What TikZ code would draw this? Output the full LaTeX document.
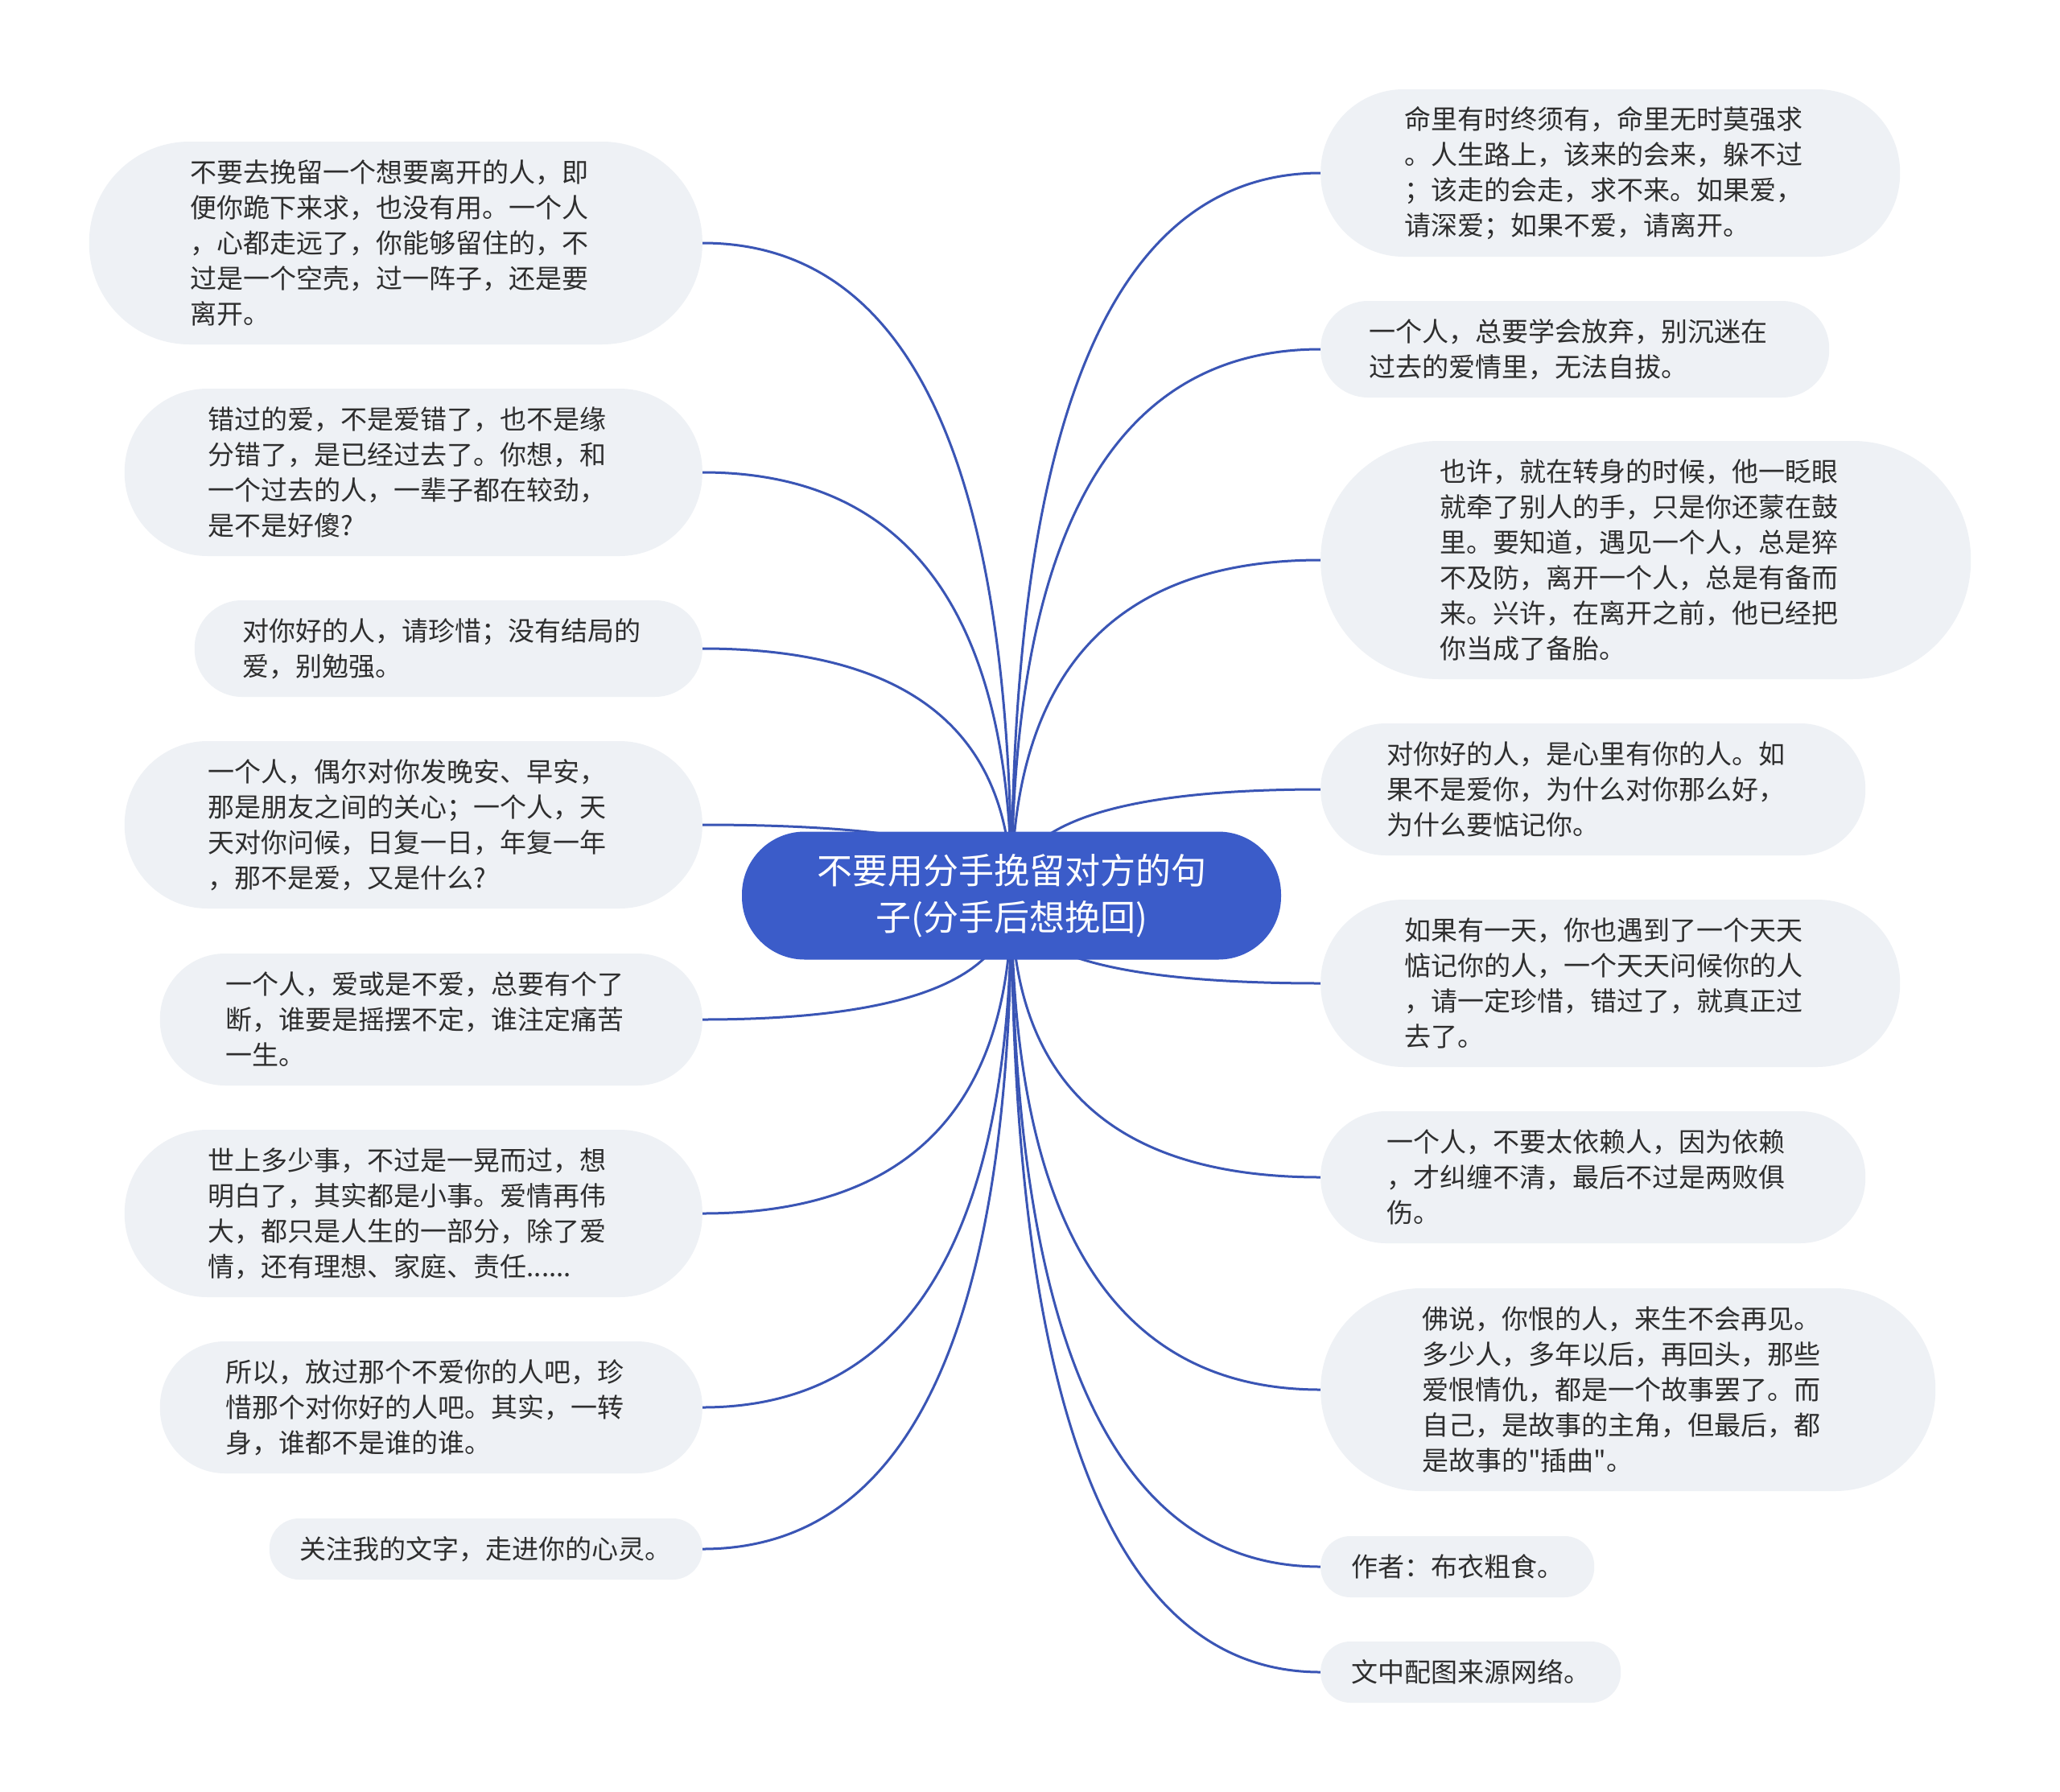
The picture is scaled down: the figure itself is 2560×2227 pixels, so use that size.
\documentclass[tikz,border=0pt]{standalone}
\usepackage{fontspec}
\setmainfont{Noto Sans CJK SC}
\newfontfamily\plainq{Noto Sans CJK SC}
\usetikzlibrary{calc,backgrounds}
\definecolor{mainblue}{HTML}{3B5CC9}
\definecolor{linkblue}{HTML}{3A55B5}
\definecolor{leafc}{HTML}{EEF1F5}
\definecolor{textc}{HTML}{2E2E2E}
\newcommand\leaffont{\fontsize{33pt}{44pt}\selectfont}
\newcommand\rootfont{\fontsize{44pt}{58pt}\selectfont}
\newcommand\mmlink[2]{\draw[link] (c.center) .. controls ($(c.center)!0.6667!(c.center |- #1.#2)$) and ($(#1.#2)!0.6667!(c.center |- #1.#2)$) .. (#1.#2);}
\tikzset{
  leaf/.style={fill=leafc, text=textc, font=\leaffont, align=left, inner ysep=0pt,
    minimum height=#1pt, inner xsep={0.5*#1pt}, rounded corners={0.5*#1pt-1pt}},
  rootbox/.style={fill=mainblue, text=white, font=\rootfont, align=center,
    minimum width=670pt, minimum height=159pt, inner sep=0pt, rounded corners=78pt},
  link/.style={draw=linkblue, line width=3pt}
}
\begin{document}
\begin{tikzpicture}[x=1pt,y=-1pt]
\useasboundingbox (0,0) rectangle (2560,2227);
\node[rootbox] (c) at (1257,1113) {不要用分手挽留对方的句\\子(分手后想挽回)};
% left leaves
\node[leaf=252, text width=510pt, anchor=east] (L1) at (873,302) {不要去挽留一个想要离开的人，即\\便你跪下来求，也没有用。一个人\\，心都走远了，你能够留住的，不\\过是一个空壳，过一阵子，还是要\\离开。};
\node[leaf=208, text width=510pt, anchor=east] (L2) at (873,587) {错过的爱，不是爱错了，也不是缘\\分错了，是已经过去了。你想，和\\一个过去的人，一辈子都在较劲，\\是不是好傻?};
\node[leaf=120, text width=511pt, anchor=east] (L3) at (873,806) {对你好的人，请珍惜；没有结局的\\爱，别勉强。};
\node[leaf=208, text width=510pt, anchor=east] (L4) at (873,1025) {一个人，偶尔对你发晚安、早安，\\那是朋友之间的关心；一个人，天\\天对你问候，日复一日，年复一年\\，那不是爱，又是什么?};
\node[leaf=164, text width=510pt, anchor=east] (L5) at (873,1267) {一个人，爱或是不爱，总要有个了\\断，谁要是摇摆不定，谁注定痛苦\\一生。};
\node[leaf=208, text width=510pt, anchor=east] (L6) at (873,1508) {世上多少事，不过是一晃而过，想\\明白了，其实都是小事。爱情再伟\\大，都只是人生的一部分，除了爱\\情，还有理想、家庭、责任......};
\node[leaf=164, text width=510pt, anchor=east] (L7) at (873,1749) {所以，放过那个不爱你的人吧，珍\\惜那个对你好的人吧。其实，一转\\身，谁都不是谁的谁。};
\node[leaf=76, text width=462pt, anchor=east] (L8) at (873,1925) {关注我的文字，走进你的心灵。};
% right leaves
\node[leaf=208, text width=512pt, anchor=west] (R1) at (1641,215) {命里有时终须有，命里无时莫强求\\。人生路上，该来的会来，躲不过\\；该走的会走，求不来。如果爱，\\请深爱；如果不爱，请离开。};
\node[leaf=120, text width=512pt, anchor=west] (R2) at (1641,434) {一个人，总要学会放弃，别沉迷在\\过去的爱情里，无法自拔。};
\node[leaf=296, text width=512pt, anchor=west] (R3) at (1641,696) {也许，就在转身的时候，他一眨眼\\就牵了别人的手，只是你还蒙在鼓\\里。要知道，遇见一个人，总是猝\\不及防，离开一个人，总是有备而\\来。兴许，在离开之前，他已经把\\你当成了备胎。};
\node[leaf=164, text width=513pt, anchor=west] (R4) at (1641,981) {对你好的人，是心里有你的人。如\\果不是爱你，为什么对你那么好，\\为什么要惦记你。};
\node[leaf=208, text width=512pt, anchor=west] (R5) at (1641,1222) {如果有一天，你也遇到了一个天天\\惦记你的人，一个天天问候你的人\\，请一定珍惜，错过了，就真正过\\去了。};
\node[leaf=164, text width=513pt, anchor=west] (R6) at (1641,1463) {一个人，不要太依赖人，因为依赖\\，才纠缠不清，最后不过是两败俱\\伤。};
\node[leaf=252, text width=512pt, anchor=west] (R7) at (1641,1727) {佛说，你恨的人，来生不会再见。\\多少人，多年以后，再回头，那些\\爱恨情仇，都是一个故事罢了。而\\自己，是故事的主角，但最后，都\\{\plainq 是故事的"插曲"。}};
\node[leaf=76, text width=264pt, anchor=west] (R8) at (1641,1947) {作者：布衣粗食。};
\node[leaf=76, text width=297pt, anchor=west] (R9) at (1641,2078) {文中配图来源网络。};
\begin{pgfonlayer}{background}
\fill[white] (0,0) rectangle (2560,2227);
\mmlink{L1}{east}\mmlink{L2}{east}\mmlink{L3}{east}\mmlink{L4}{east}
\mmlink{L5}{east}\mmlink{L6}{east}\mmlink{L7}{east}\mmlink{L8}{east}
\mmlink{R1}{west}\mmlink{R2}{west}\mmlink{R3}{west}\mmlink{R4}{west}\mmlink{R5}{west}
\mmlink{R6}{west}\mmlink{R7}{west}\mmlink{R8}{west}\mmlink{R9}{west}
\end{pgfonlayer}
\end{tikzpicture}
\end{document}
